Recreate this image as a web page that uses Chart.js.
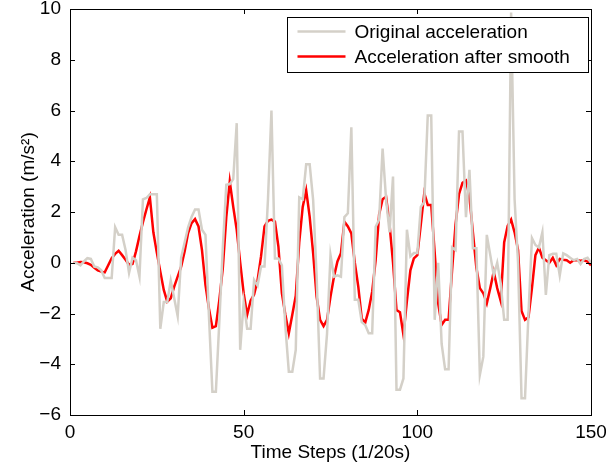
<!DOCTYPE html>
<html>
<head>
<meta charset="utf-8">
<script src="https://cdn.jsdelivr.net/npm/chart.js@4.4.1/dist/chart.umd.min.js"></script>
<style>
  html, body { margin: 0; padding: 0; background: #fff; }
  #wrap { width: 606px; height: 470px; }
</style>
</head>
<body>
<div id="wrap"><canvas id="chart" width="606" height="470"></canvas></div>
<script>
// Raw acceleration, time steps 1..150
const originalAccel = [
  0, -0.02, -0.1, 0.05, 0.18, 0.15, -0.15, -0.18, -0.3, -0.6,
  -0.6, -0.6, 1.4, 1.1, 1.1, 0.5, -0.4, 0.2, 0.1, -0.55,
  2.5, 2.55, 2.7, 2.7, 2.7, -2.6, -1.55, -1.55, -0.7, -1.4,
  -2.1, 0.2, 0.8, 1.4, 1.8, 2.1, 2.1, 1.3, 1.1, -2.1,
  -5.08, -5.08, -2.3, 0.6, 3.07, 3.1, 3.3, 5.5, -3.43, -1.55,
  -2.6, -2.6, -0.68, -0.9, -0.15, -0.15, 2.5, 6.0, 0.17, 0.17,
  -0.1, -2.5, -4.3, -4.3, -3.43, 2.58, 2.5, 3.88, 3.88, 2.48,
  -0.5, -4.56, -4.56, -2.8, 0.3, -0.55, -0.5, -0.55, 1.8, 1.95,
  5.34, -1.46, -1.46, -2.34, -2.45, -2.78, -2.78, 1.42, 1.7, 4.5,
  2.5, 1.2, 3.4, -5.0, -5.0, -4.56, 1.3, 0.25, 0.38, 0.38,
  2.2, 2.4, 5.8, 5.8, -2.25, 0.0, -3.2, -4.2, -4.2, 0.6,
  0.5, 5.17, 5.17, 1.8, 3.66, 0.57, 0.57, -4.42, -3.7, 1.1,
  0.3, -0.5, 0.0, -0.8, -2.25, -2.25, 9.86, 2.5, 0.0, -5.34,
  -5.34, -2.0, 0.97, 0.7, 0.6, 1.2, -1.27, 0.3, 0.35, 0.35,
  -0.5, 0.37, 0.3, 0.2, 0.1, 0.15, -0.05, 0.15, 0.2, 0.0
];

// Smoothed acceleration
const smoothAccel = [
  0, 0, 0.03, 0.02, -0.02, -0.08, -0.2, -0.3, -0.35, -0.38,
  -0.1, 0.18, 0.35, 0.47, 0.3, 0.12, -0.08, -0.05, 0.45, 1.05,
  1.6, 2.1, 2.58, 1.2, 0.4, -0.35, -1.07, -1.53, -1.4, -0.94,
  -0.55, -0.15, 0.44, 1.17, 1.56, 1.72, 1.43, 0.5, -0.87, -1.8,
  -2.56, -2.5, -1.46, -0.2, 1.8, 3.2, 2.2, 1.3, 0, -1.2,
  -2.05, -1.5, -1.25, -0.7, 0.25, 1.43, 1.65, 1.7, 1.62, 0.64,
  -1.2, -2.05, -2.78, -2.05, -1.3, 0.8, 2.2, 2.85, 1.82, 0.38,
  -1.33, -2.25, -2.5, -2.25, -1.33, -0.55, 0.05, 0.38, 1.62, 1.43,
  1.16, 0, -0.94, -2.2, -2.36, -1.86, -1.14, 0.1, 1.9, 2.5,
  2.6, 1.5, 0.0, -1.86, -1.95, -2.84, -1.5, -0.3, 0.17, 0.3,
  1.5, 2.74, 2.28, 2.28, 0.4, -1.6, -2.45, -2.25, -2.25, -0.3,
  1.5, 2.7, 3.15, 3.24, 2.6, 1.2, -0.2, -1.0, -1.2, -1.6,
  -1.0, -0.35, -1.0, -1.5, 0.8, 1.45, 1.7, 1.2, 0.5, -1.9,
  -2.25, -2.15, -1.0, 0.3, 0.6, 0.2, 0.1, 0.0, 0.2, -0.1,
  0.15, 0.12, 0.1, 0.0, 0.1, 0.1, 0.08, 0.1, 0.05, -0.1
];

const seriesLabels = ["Original acceleration", "Acceleration after smooth"];
const xTicks = [0, 50, 100, 150];
const yTicks = [-6, -4, -2, 0, 2, 4, 6, 8, 10];

const timeSteps = originalAccel.map((_, i) => i + 1);
const FONT = "'Liberation Sans', Arial, Helvetica, sans-serif";

// MATLAB-like box, inward ticks and framed legend
const axesBox = {
  id: 'axesBox',
  afterDraw(chart) {
    const { ctx, chartArea: a, scales: { x, y } } = chart;
    ctx.save();
    ctx.strokeStyle = '#000';
    ctx.lineWidth = 1;
    ctx.strokeRect(Math.round(a.left) + 0.5, Math.round(a.top) + 0.5,
      Math.round(a.right - a.left), Math.round(a.bottom - a.top));
    ctx.beginPath();
    xTicks.forEach(v => {
      const px = Math.round(x.getPixelForValue(v)) + 0.5;
      ctx.moveTo(px, a.bottom); ctx.lineTo(px, a.bottom - 5);
      ctx.moveTo(px, a.top); ctx.lineTo(px, a.top + 5);
    });
    yTicks.forEach(v => {
      const py = Math.round(y.getPixelForValue(v)) + 0.5;
      ctx.moveTo(a.left, py); ctx.lineTo(a.left + 5, py);
      ctx.moveTo(a.right, py); ctx.lineTo(a.right - 5, py);
    });
    ctx.stroke();

    // legend
    const w = 301, h = 55;
    const lx = Math.round(a.right - 3 - w) + 0.5, ly = Math.round(a.top + 8) + 0.5;
    ctx.fillStyle = '#fff';
    ctx.fillRect(lx, ly, w, h);
    ctx.strokeRect(lx, ly, w, h);
    ctx.font = '19px ' + FONT;
    ctx.textBaseline = 'middle';
    chart.data.datasets.forEach((ds, i) => {
      const ry = ly + 14 + i * 25;
      ctx.strokeStyle = ds.borderColor;
      ctx.lineWidth = ds.borderWidth;
      ctx.beginPath();
      ctx.moveTo(lx + 10, ry); ctx.lineTo(lx + 58, ry);
      ctx.stroke();
      ctx.fillStyle = '#000';
      ctx.fillText(ds.label, lx + 67, ry + 1);
    });
    ctx.restore();
  }
};

new Chart(document.getElementById('chart'), {
  type: 'line',
  data: {
    labels: timeSteps,
    datasets: [
      {
        label: seriesLabels[0],
        data: originalAccel.map((v, i) => ({ x: timeSteps[i], y: v })),
        borderColor: 'rgb(212,208,200)',
        borderWidth: 2.5,
        pointRadius: 0,
        tension: 0
      },
      {
        label: seriesLabels[1],
        data: smoothAccel.map((v, i) => ({ x: timeSteps[i], y: v })),
        borderColor: 'rgb(255,0,0)',
        borderWidth: 2.5,
        pointRadius: 0,
        tension: 0
      }
    ]
  },
  options: {
    responsive: false,
    animation: false,
    layout: { padding: { left: 0, right: 15, top: 9, bottom: 0 } },
    plugins: {
      legend: { display: false },
      tooltip: { enabled: false }
    },
    scales: {
      x: {
        type: 'linear',
        min: 0, max: 150,
        afterBuildTicks: s => { s.ticks = xTicks.map(v => ({ value: v })); },
        afterFit: s => { s.height = 55; s.paddingLeft = 0; s.paddingRight = 0; },
        grid: { display: false, drawTicks: false },
        border: { display: false },
        ticks: { color: '#000', font: { size: 19, family: FONT }, padding: 6, maxRotation: 0 },
        title: { display: true, text: 'Time Steps (1/20s)', color: '#000',
                 font: { size: 19, family: FONT }, padding: { top: 0, bottom: 6 } }
      },
      y: {
        min: -6, max: 10,
        afterBuildTicks: s => { s.ticks = yTicks.map(v => ({ value: v })); },
        afterFit: s => { s.width = 70; s.paddingTop = 0; s.paddingBottom = 0; },
        grid: { display: false, drawTicks: false },
        border: { display: false },
        ticks: {
          color: '#000', font: { size: 19, family: FONT }, padding: 9,
          callback: v => v < 0 ? '\u2212' + Math.abs(v) : String(v)
        },
        title: { display: true, text: 'Acceleration (m/s\u00b2)', color: '#000',
                 font: { size: 19, family: FONT }, padding: { top: 17, bottom: 0 } }
      }
    }
  },
  plugins: [axesBox]
});
</script>
</body>
</html>
